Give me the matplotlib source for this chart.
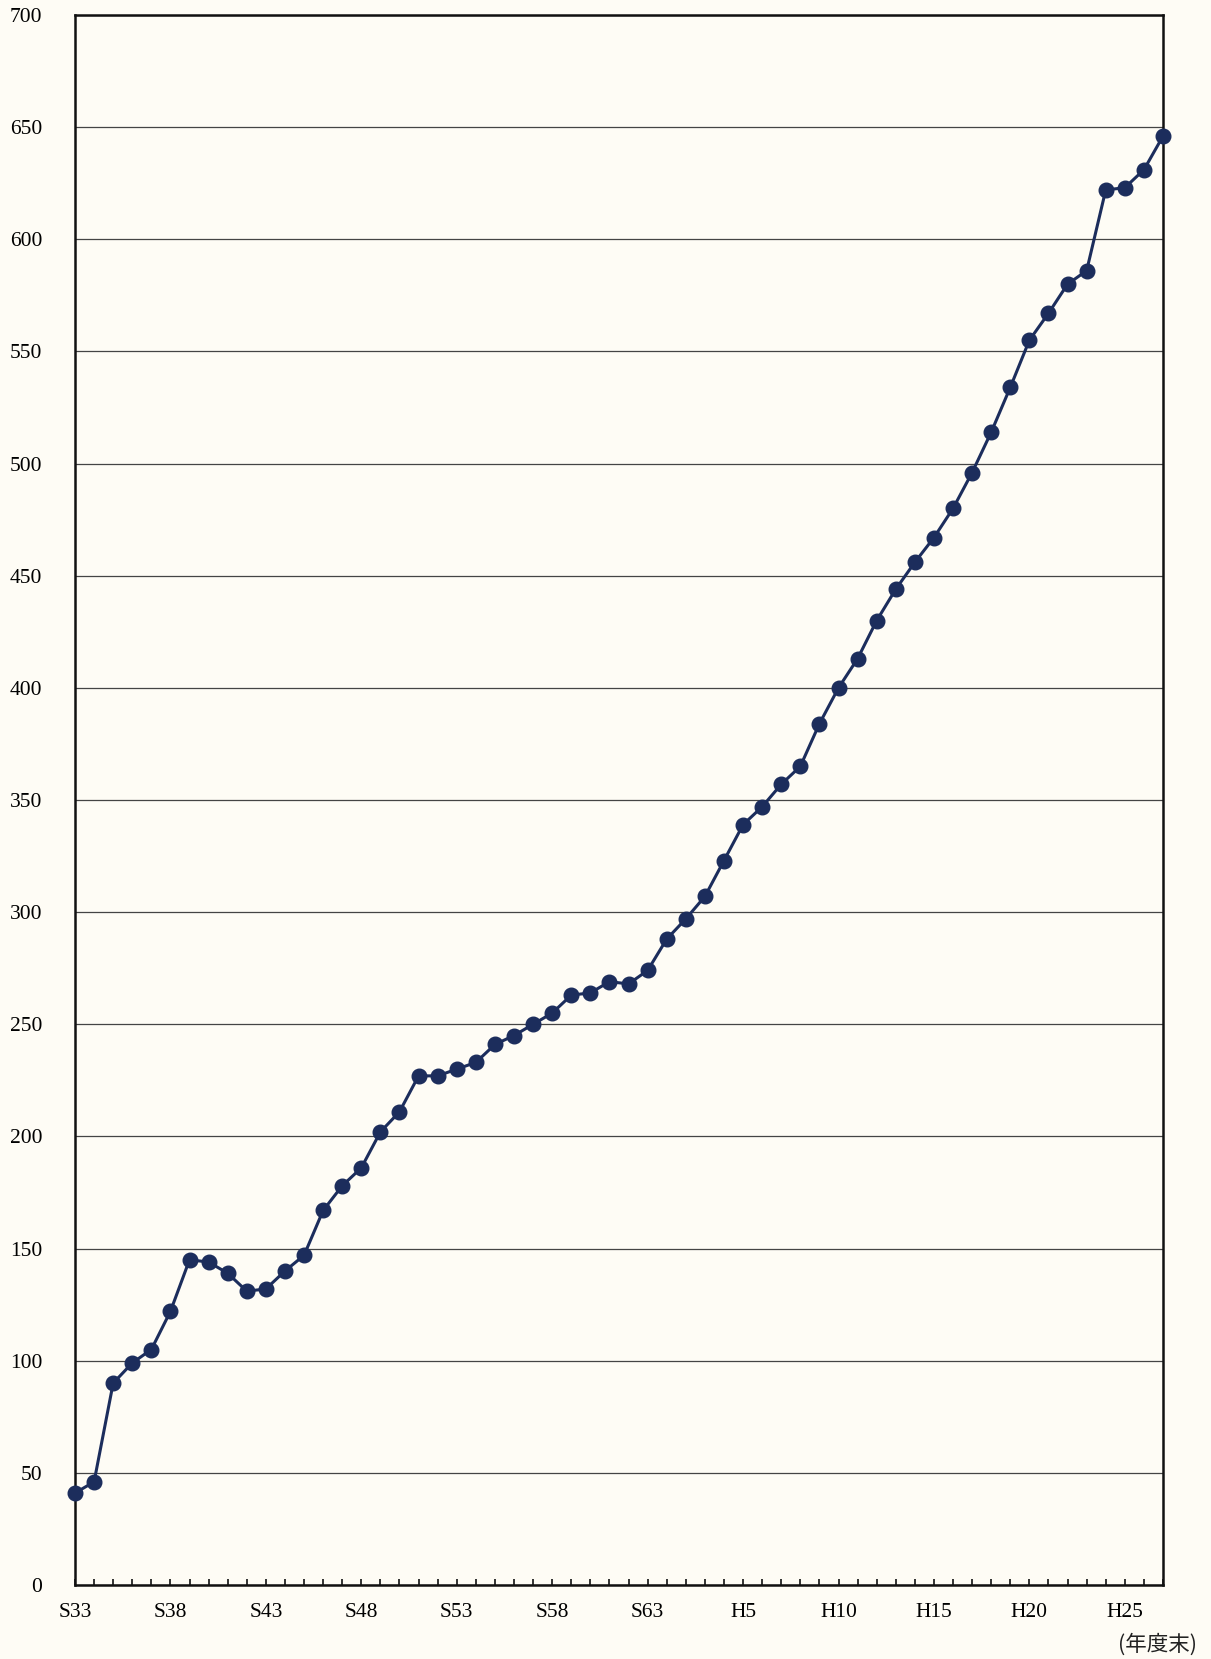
import matplotlib
matplotlib.use("Agg")
import matplotlib.pyplot as plt
import numpy as np

# Fiscal years S33 (1958) .. H27 (2015)
years = [f"S{n}" for n in range(33, 64)] + [f"H{n}" for n in range(1, 28)]
values = [41, 46, 90, 99, 105, 122, 145, 144, 139, 131,
          132, 140, 147, 167, 178, 186, 202, 211, 227, 227,
          230, 233, 241, 245, 250, 255, 263, 264, 269, 268,
          274, 288, 297, 307, 323, 339, 347, 357, 365, 384,
          400, 413, 430, 444, 456, 467, 480, 496, 514, 534,
          555, 567, 580, 586, 622, 623, 631, 646]
label_years = ["S33", "S38", "S43", "S48", "S53", "S58", "S63",
               "H5", "H10", "H15", "H20", "H25"]
yticks = list(range(0, 701, 50))

bg = "#fefcf5"
line_color = "#1c2d5c"

fig = plt.figure(figsize=(12.11, 16.59), dpi=100, facecolor=bg)
ax = fig.add_axes([75/1211, 1 - 1585/1659, (1163-75)/1211, (1585-15)/1659])
ax.set_facecolor(bg)

x = np.arange(len(values))
ax.plot(x, values, color=line_color, lw=2.2, marker="o", markersize=10.5,
        markerfacecolor=line_color, markeredgecolor=line_color, zorder=3,
        clip_on=False)

ax.set_xlim(0, len(values) - 1)
ax.set_ylim(0, 700)

ax.set_yticks(yticks)
ax.set_yticklabels([str(v) for v in yticks], family="Liberation Serif", fontsize=15.5)
ax.tick_params(axis="y", length=0, pad=23.5)

ax.set_xticks(x)
ax.set_xticklabels([y if y in label_years else "" for y in years],
                   family="Liberation Serif", fontsize=15.5)
ax.tick_params(axis="x", direction="in", length=4, width=1.2, pad=13, color="#111111")

ax.yaxis.grid(True, color="#444444", lw=0.9)
ax.set_axisbelow(True)
for s in ax.spines.values():
    s.set_color("#111111")
    s.set_linewidth(1.8)

fig.text(1157/1211, 1 - 1645/1659, "(年度末)", ha="center", va="center",
         fontsize=15.5, family=["Noto Sans CJK JP", "DejaVu Sans"], color="#222222")

fig.savefig("out.png", dpi=100, facecolor=bg)
